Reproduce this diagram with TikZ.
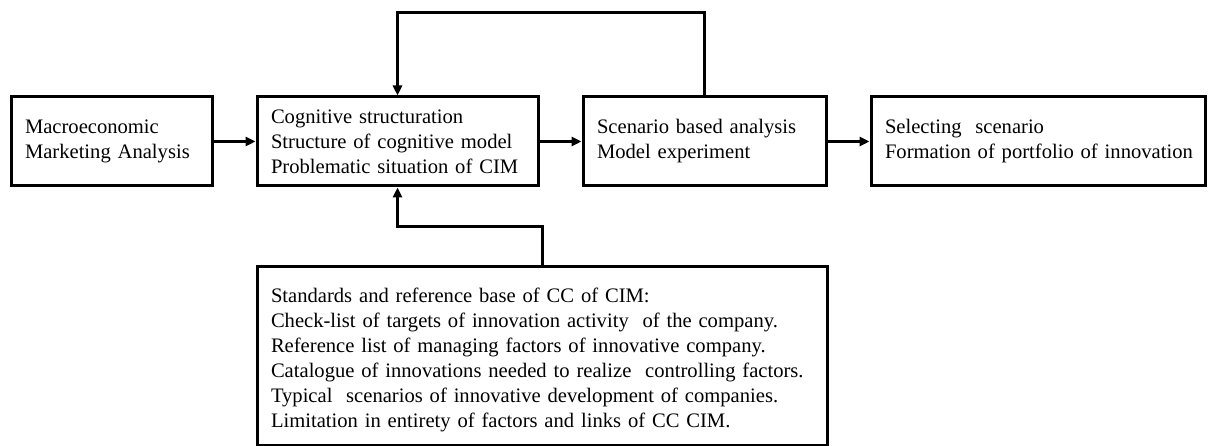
\documentclass[tikz,border=0pt]{standalone}
\usepackage{fontspec}
\setmainfont{Liberation Serif}
\usetikzlibrary{arrows.meta}
\newcommand\myboxfont{\fontsize{20.6}{25}\selectfont\hyphenpenalty=10000\relax\exhyphenpenalty=10000\relax\hfuzz=40pt\relax}
\tikzset{
  box/.style={draw, line width=3pt, rectangle, align=left, inner xsep=14pt, inner ysep=0pt,
    font=\myboxfont, anchor=center},
  arr/.style={line width=3pt, -{Triangle[length=10pt,width=9pt]}},
}
\begin{document}
\begin{tikzpicture}[x=1pt,y=-1pt]
\useasboundingbox (0,0) rectangle (1208,446);
\node[box, text width=173pt, minimum width=201pt, minimum height=89pt] (A) at (111.5,141.5)
  {Macroeconomic\\Marketing Analysis};
\node[box, text width=253pt, minimum width=281pt, minimum height=89pt] (B) at (397.5,141.5)
  {Cognitive structuration\\Structure of cognitive model\\Problematic situation of CIM};
\node[box, text width=215pt, minimum width=243pt, minimum height=89pt] (C) at (704.5,141.5)
  {Scenario based analysis\\Model experiment};
\node[box, text width=306pt, minimum width=334pt, minimum height=89pt] (D) at (1038,141.5)
  {Selecting\ \ scenario\\\mbox{Formation of portfolio of innovation}};
\node[box, text width=542pt, minimum width=570pt, minimum height=178pt] (E) at (542,356)
  {\rule{0pt}{22pt}Standards and reference base of CC of CIM:\\
   Check-list of targets of innovation activity\ \ of the company.\\
   Reference list of managing factors of innovative company.\\
   Catalogue of innovations needed to realize\ \ controlling factors.\\
   Typical\ \ scenarios of innovative development of companies.\\
   Limitation in entirety of factors and links of CC CIM.};
\coordinate (fb) at (551,13);
\coordinate (el) at (470,227);
\draw[arr] (A) -- (B);
\draw[arr] (B) -- (C);
\draw[arr] (C) -- (D);
\draw[arr] (C.north) |- (fb) -| (B.north);
\draw[arr] (E.north) |- (el) -| (B.south);
\end{tikzpicture}
\end{document}
